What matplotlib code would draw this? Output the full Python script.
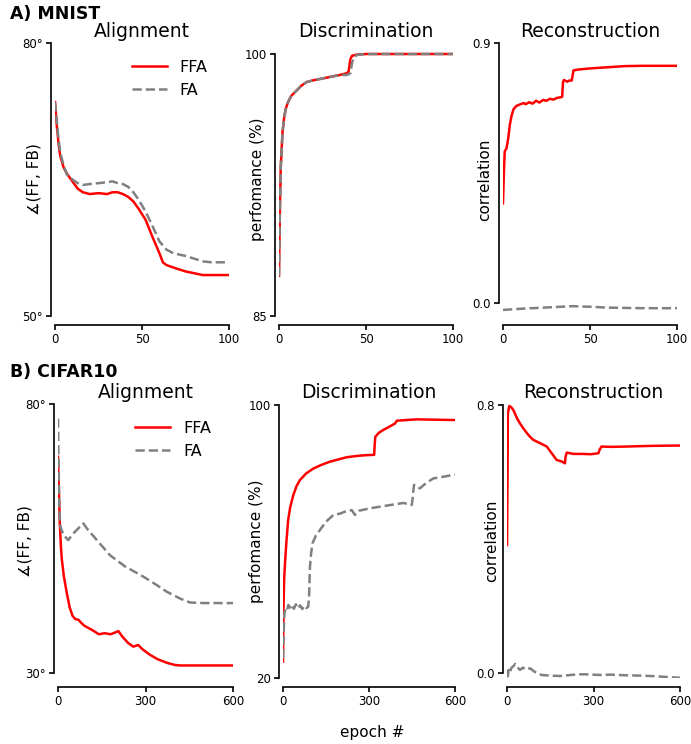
import matplotlib
matplotlib.use("Agg")
import matplotlib.pyplot as plt

# MNIST (epochs 0..100)
a_align_ffa_ep = [0, 1, 2, 3, 5, 7, 10, 13, 16, 20, 25, 30, 33, 36, 39, 42, 45, 48, 52, 56, 60, 62, 64, 70, 75, 80, 85, 90, 100]
a_align_ffa = [73.5, 71.0, 69.0, 67.6, 66.3, 65.6, 64.8, 64.0, 63.6, 63.4, 63.5, 63.4, 63.6, 63.6, 63.4, 63.1, 62.6, 61.8, 60.6, 58.7, 56.9, 55.9, 55.6, 55.2, 54.9, 54.7, 54.5, 54.5, 54.5]
a_align_fa_ep = [0, 1, 2, 3, 5, 7, 10, 13, 16, 20, 25, 30, 33, 36, 39, 42, 45, 48, 52, 56, 60, 64, 68, 75, 80, 85, 90, 100]
a_align_fa = [73.5, 71.5, 69.5, 68.0, 66.5, 65.5, 65.0, 64.6, 64.4, 64.5, 64.6, 64.7, 64.8, 64.6, 64.5, 64.2, 63.6, 62.8, 61.5, 59.9, 58.2, 57.3, 56.9, 56.6, 56.3, 56.0, 55.9, 55.9]

a_disc_ffa_ep = [0, 0.5, 1, 1.5, 2, 3, 4, 5, 7, 10, 13, 16, 20, 25, 30, 35, 39, 40, 41, 42, 45, 50, 100]
a_disc_ffa = [87.3, 91.0, 93.5, 94.5, 95.5, 96.4, 96.9, 97.2, 97.6, 97.9, 98.2, 98.4, 98.5, 98.6, 98.7, 98.8, 98.9, 99.0, 99.7, 99.9, 99.97, 100, 100]
a_disc_fa_ep = [0, 0.5, 1, 1.5, 2, 3, 4, 5, 7, 10, 13, 16, 20, 25, 30, 35, 39, 41, 42, 43, 45, 50, 100]
a_disc_fa = [87.3, 91.0, 93.5, 94.5, 95.5, 96.4, 96.9, 97.2, 97.6, 97.9, 98.2, 98.4, 98.5, 98.6, 98.7, 98.8, 98.8, 98.9, 99.5, 99.8, 99.95, 100, 100]

a_rec_ffa_ep = [0, 0.5, 1, 2, 3, 4, 5, 6, 7, 8, 10, 12, 13, 15, 17, 19, 21, 23, 25, 27, 29, 31, 33, 34, 34.5, 35, 37, 38, 39.5, 40.5, 43, 50, 60, 70, 80, 90, 100]
a_rec_ffa = [0.345, 0.45, 0.525, 0.535, 0.57, 0.62, 0.65, 0.67, 0.678, 0.683, 0.688, 0.692, 0.688, 0.695, 0.690, 0.700, 0.694, 0.703, 0.700, 0.707, 0.704, 0.710, 0.712, 0.714, 0.765, 0.772, 0.766, 0.770, 0.770, 0.805, 0.808, 0.812, 0.816, 0.820, 0.821, 0.821, 0.821]
a_rec_fa_ep = [0, 10, 20, 30, 40, 50, 60, 70, 80, 100]
a_rec_fa = [-0.024, -0.020, -0.017, -0.014, -0.011, -0.013, -0.016, -0.017, -0.018, -0.018]

# CIFAR10 (epochs 0..600)
b_align_ffa_ep = [0, 3, 6, 10, 13, 20, 30, 40, 50, 60, 70, 80, 90, 100, 120, 140, 160, 180, 195, 207, 220, 240, 258, 275, 290, 315, 340, 373, 400, 418, 500, 600]
b_align_ffa = [70.2, 64.0, 58.0, 53.5, 51.2, 48.0, 44.9, 42.2, 40.6, 40.0, 39.9, 39.3, 38.8, 38.5, 37.9, 37.2, 37.4, 37.2, 37.5, 37.8, 36.8, 35.6, 34.9, 35.2, 34.4, 33.4, 32.6, 31.9, 31.5, 31.4, 31.4, 31.4]
b_align_fa_ep = [0, 1, 2, 4, 7, 12, 20, 35, 50, 70, 87, 100, 130, 178, 230, 293, 340, 373, 420, 453, 500, 600]
b_align_fa = [77.3, 72.0, 69.6, 62.0, 57.5, 56.6, 55.6, 54.7, 55.8, 56.9, 57.8, 56.8, 54.9, 51.9, 49.8, 47.9, 46.3, 45.1, 43.8, 43.1, 43.0, 43.0]

b_disc_ffa_ep = [0, 1, 2, 4, 7, 12, 18, 25, 36, 47, 59, 80, 106, 135, 164, 195, 222, 260, 290, 318, 320, 322, 335, 350, 370, 391, 397, 430, 466, 530, 600]
b_disc_ffa = [24.8, 35.0, 42.0, 49.0, 53.6, 60.0, 66.3, 70.0, 73.6, 76.2, 78.0, 79.9, 81.4, 82.5, 83.4, 84.1, 84.7, 85.1, 85.3, 85.4, 88.5, 90.7, 91.9, 92.7, 93.6, 94.6, 95.4, 95.6, 95.8, 95.7, 95.6]
b_disc_fa_ep = [0, 2, 5, 10, 15, 18.6, 25, 30, 38, 45, 52, 60, 67, 75, 82, 88, 91, 94, 98, 103, 115, 129, 150, 176, 200, 220, 240, 251, 265, 280, 303, 330, 360, 397, 420, 440, 449, 452, 457, 470, 478, 500, 525, 560, 600]
b_disc_fa = [25.8, 33.0, 39.0, 40.5, 40.0, 41.4, 40.6, 41.5, 40.3, 41.6, 40.4, 41.3, 40.2, 41.2, 40.5, 40.9, 44.0, 52.6, 56.5, 59.5, 61.8, 63.4, 65.8, 67.8, 68.2, 68.9, 69.2, 67.8, 69.0, 69.3, 69.7, 70.1, 70.5, 71.0, 71.3, 70.9, 70.7, 72.5, 76.6, 75.8, 75.6, 77.2, 78.5, 79.0, 79.6]

b_rec_ffa_ep = [0, 2, 3, 8, 15, 22, 35, 45, 57, 70, 80, 91, 110, 138, 155, 172, 188, 201, 203, 207, 230, 265, 290, 317, 322, 328, 360, 415, 500, 600]
b_rec_ffa = [0.382, 0.60, 0.775, 0.797, 0.793, 0.785, 0.760, 0.745, 0.730, 0.715, 0.705, 0.696, 0.688, 0.676, 0.656, 0.636, 0.632, 0.626, 0.645, 0.658, 0.654, 0.654, 0.653, 0.656, 0.668, 0.676, 0.675, 0.676, 0.678, 0.679]
b_rec_fa_ep = [0, 3, 5, 10, 15, 22, 28, 35, 45, 55, 65, 80, 95, 120, 150, 184, 220, 250, 276, 320, 360, 415, 470, 520, 589, 600]
b_rec_fa = [-0.006, -0.010, 0.009, 0.000, 0.015, 0.020, 0.027, 0.018, 0.009, 0.016, 0.010, 0.014, 0.004, -0.006, -0.008, -0.009, -0.006, -0.004, -0.004, -0.006, -0.005, -0.007, -0.008, -0.010, -0.014, -0.014]

RED = "#ff0000"
GRAY = "#808080"
W, H = 691, 744


def make_ax(fig, x0, x1, y0, y1):
    # pixel box -> figure fraction
    return fig.add_axes([x0 / W, 1 - y1 / H, (x1 - x0) / W, (y1 - y0) / H])


def style(ax, xlim, xticks, ylim, yticks, ylabels, ylabel, lab_x):
    ax.set_xlim(*xlim)
    ax.set_ylim(*ylim)
    ax.set_xticks(xticks)
    ax.set_yticks(yticks)
    ax.set_yticklabels(ylabels)
    for s in ["top", "right"]:
        ax.spines[s].set_visible(False)
    ax.spines["left"].set_position(("outward", 3))
    ax.spines["bottom"].set_position(("outward", 6.5))
    ax.spines["left"].set_bounds(yticks[0], yticks[-1])
    ax.spines["bottom"].set_bounds(xticks[0], xticks[-1])
    for s in ["left", "bottom"]:
        ax.spines[s].set_linewidth(1.2)
    ax.tick_params(labelsize=8.5, width=1.2, length=3.5, pad=2)
    ax.set_ylabel(ylabel, fontsize=11)
    ax.yaxis.set_label_coords(lab_x, 0.5)


def main():
    fig = plt.figure(figsize=(W / 100, H / 100), dpi=100)
    lw = 1.8
    leg_kw = dict(loc="upper left", bbox_to_anchor=(0.44, 0.938), frameon=False, fontsize=11.5,
                  borderaxespad=0, borderpad=0, handlelength=2.2, handletextpad=0.8)

    # ---- A) MNIST ----
    ax = make_ax(fig, 55, 229, 43, 316)
    ax.plot(a_align_ffa_ep, a_align_ffa, color=RED, lw=lw, label="FFA")
    ax.plot(a_align_fa_ep, a_align_fa, color=GRAY, lw=lw, ls="--", label="FA")
    style(ax, (0, 100), [0, 50, 100], (50, 80), [50, 80], ["50°", "80°"], "∡(FF, FB)", -0.075)
    ax.set_title("Alignment", fontsize=13.5, pad=4)
    ax.legend(**leg_kw)

    ax = make_ax(fig, 279, 453, 43, 316)
    ax.plot(a_disc_ffa_ep, a_disc_ffa, color=RED, lw=lw)
    ax.plot(a_disc_fa_ep, a_disc_fa, color=GRAY, lw=lw, ls="--")
    style(ax, (0, 100), [0, 50, 100], (85, 100.63), [85, 100], ["85", "100"], "perfomance (%)", -0.08)
    ax.set_title("Discrimination", fontsize=13.5, pad=4)

    ax = make_ax(fig, 503, 677, 43, 316)
    ax.plot(a_rec_ffa_ep, a_rec_ffa, color=RED, lw=lw)
    ax.plot(a_rec_fa_ep, a_rec_fa, color=GRAY, lw=lw, ls="--")
    style(ax, (0, 100), [0, 50, 100], (-0.045, 0.9), [0.0, 0.9], ["0.0", "0.9"], "correlation", -0.063)
    ax.set_title("Reconstruction", fontsize=13.5, pad=4)

    # ---- B) CIFAR10 ----
    ax = make_ax(fig, 58, 233, 404, 678)
    ax.plot(b_align_ffa_ep, b_align_ffa, color=RED, lw=lw, label="FFA")
    ax.plot(b_align_fa_ep, b_align_fa, color=GRAY, lw=lw, ls="--", label="FA")
    style(ax, (0, 600), [0, 300, 600], (29.07, 80), [30, 80], ["30°", "80°"], "∡(FF, FB)", -0.143)
    ax.set_title("Alignment", fontsize=13.5, pad=4)
    ax.legend(**leg_kw)

    ax = make_ax(fig, 283, 455, 404, 678)
    ax.plot(b_disc_ffa_ep, b_disc_ffa, color=RED, lw=lw)
    ax.plot(b_disc_fa_ep, b_disc_fa, color=GRAY, lw=lw, ls="--")
    style(ax, (0, 600), [0, 300, 600], (20, 100.3), [20, 100], ["20", "100"], "perfomance (%)", -0.11)
    ax.set_title("Discrimination", fontsize=13.5, pad=4)

    ax = make_ax(fig, 507, 680, 404, 678)
    ax.plot(b_rec_ffa_ep, b_rec_ffa, color=RED, lw=lw)
    ax.plot(b_rec_fa_ep, b_rec_fa, color=GRAY, lw=lw, ls="--")
    style(ax, (0, 600), [0, 300, 600], (-0.015, 0.803), [0.0, 0.8], ["0.0", "0.8"], "correlation", -0.046)
    ax.set_title("Reconstruction", fontsize=13.5, pad=4)

    fig.text(10 / W, 1 - 14 / H, "A) MNIST", fontsize=12.5, fontweight="bold", va="center", ha="left")
    fig.text(10 / W, 1 - 372 / H, "B) CIFAR10", fontsize=12.5, fontweight="bold", va="center", ha="left")
    fig.text(372 / W, 1 - 733 / H, "epoch #", fontsize=11, ha="center", va="center")

    fig.savefig("out.png", dpi=100)


if __name__ == "__main__":
    main()
